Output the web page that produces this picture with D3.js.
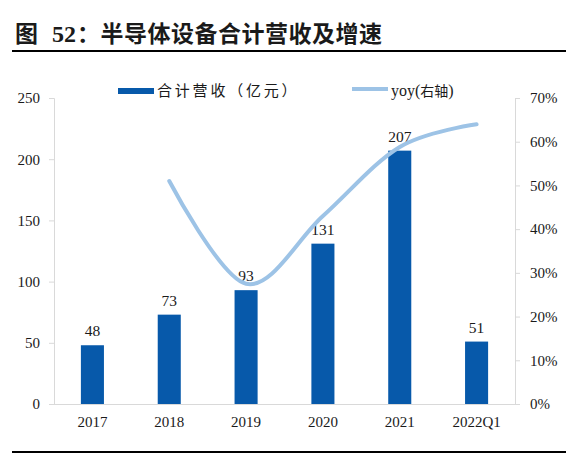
<!DOCTYPE html>
<html lang="zh">
<head>
<meta charset="UTF-8">
<title>半导体设备合计营收及增速</title>
<script src="https://d3js.org/d3.v7.min.js"></script>
<style>
    body { margin: 0; background: #fff; }
    svg text { font-family: "Liberation Serif", "Noto Sans CJK SC", serif; fill: #1a1a1a; }
    .cjk { font-family: "Noto Sans CJK SC", sans-serif; }
    .axis text { font-size: 15px; }
    .axis path, .axis line { stroke: #d9d9d9; }
</style>
</head>
<body>
<svg id="chart" width="588" height="455"></svg>
<script>
    // data
    let years = ["2017", "2018", "2019", "2020", "2021", "2022Q1"]
    let revenue = [48, 73, 93, 131, 207, 51]          // 合计营收（亿元）
    let yoyYears = ["2018", "2019", "2020", "2021", "2022Q1"]
    let yoy = [0.51, 0.275, 0.43, 0.588, 0.64]         // yoy(右轴)
    let leftTicks = [0, 50, 100, 150, 200, 250]
    let rightTicks = [0, 0.1, 0.2, 0.3, 0.4, 0.5, 0.6, 0.7]

    let barColor = "#0759aa"
    let lineColor = "#9dc3e6"

    let svg = d3.select("#chart")
    let plot = {left: 54, right: 515, top: 98, bottom: 404}

    // title and rules
    let title = svg.append("text")
        .attr("y", 42)
        .attr("font-size", 23).attr("font-weight", "bold")
    title.append("tspan").attr("class", "cjk").attr("x", 15).text("图")
    title.append("tspan").attr("x", 52).attr("font-size", 24).text("52")
    title.append("tspan").attr("class", "cjk").attr("x", 77).attr("letter-spacing", 0.5)
        .text("：半导体设备合计营收及增速")

    svg.append("line").attr("x1", 12).attr("x2", 566).attr("y1", 51).attr("y2", 51)
        .attr("stroke", "#000").attr("stroke-width", 2)
    svg.append("line").attr("x1", 12).attr("x2", 566).attr("y1", 452).attr("y2", 452)
        .attr("stroke", "#000").attr("stroke-width", 2)

    let x = d3.scaleBand().domain(years).range([plot.left, plot.right])
    let y = d3.scaleLinear().domain([0, 250]).range([plot.bottom, plot.top])
    let y2 = d3.scaleLinear().domain([0, 0.7]).range([plot.bottom, plot.top])
    let barW = x.bandwidth() * 0.3

    // axes
    svg.append("g").attr("class", "axis")
        .attr("transform", `translate(${plot.left},0)`)
        .call(d3.axisLeft(y).tickValues(leftTicks).tickSize(5).tickPadding(9).tickSizeOuter(5))
    svg.append("g").attr("class", "axis")
        .attr("transform", `translate(${plot.right},0)`)
        .call(d3.axisRight(y2).tickValues(rightTicks).tickFormat(d3.format(".0%"))
            .tickSize(5).tickPadding(10).tickSizeOuter(5))
    let xAxis = svg.append("g").attr("class", "axis")
        .attr("transform", `translate(0,${plot.bottom})`)
        .call(d3.axisBottom(x).tickSize(0).tickSizeOuter(0).tickPadding(12))
    xAxis.select(".domain").attr("d", `M${plot.left},0.5H${plot.right}`)

    // bars
    svg.append("g").selectAll("rect")
        .data(years)
        .join("rect")
        .attr("x", (d) => x(d) + (x.bandwidth() - barW) / 2)
        .attr("width", barW)
        .attr("y", (d, i) => y(revenue[i]))
        .attr("height", (d, i) => y(0) - y(revenue[i]))
        .attr("fill", barColor)

    // bar labels
    svg.append("g").selectAll("text")
        .data(years)
        .join("text")
        .attr("x", (d) => x(d) + x.bandwidth() / 2)
        .attr("y", (d, i) => y(revenue[i]) - 9)
        .attr("text-anchor", "middle")
        .attr("font-size", 15.5)
        .text((d, i) => revenue[i])

    // smoothed yoy line
    let line = d3.line()
        .x((d, i) => x(yoyYears[i]) + x.bandwidth() / 2)
        .y((d) => y2(d))
        .curve(d3.curveCardinal.tension(0))
    svg.append("path")
        .datum(yoy)
        .attr("d", line)
        .attr("fill", "none")
        .attr("stroke", lineColor)
        .attr("stroke-width", 4)
        .attr("stroke-linecap", "round")

    // legend
    let legend = svg.append("g")
    legend.append("rect").attr("x", 118).attr("y", 88).attr("width", 36).attr("height", 6)
        .attr("fill", barColor)
    legend.append("text").attr("class", "cjk").attr("x", 157).attr("y", 96)
        .attr("font-size", 15).attr("letter-spacing", 2.8).text("合计营收（亿元）")
    legend.append("line").attr("x1", 352).attr("x2", 388).attr("y1", 89).attr("y2", 89)
        .attr("stroke", lineColor).attr("stroke-width", 4)
    let lt = legend.append("text").attr("x", 391).attr("y", 96).attr("font-size", 16)
    lt.append("tspan").text("yoy(")
    lt.append("tspan").attr("class", "cjk").attr("font-size", 14).text("右轴")
    lt.append("tspan").text(")")
</script>
</body>
</html>
